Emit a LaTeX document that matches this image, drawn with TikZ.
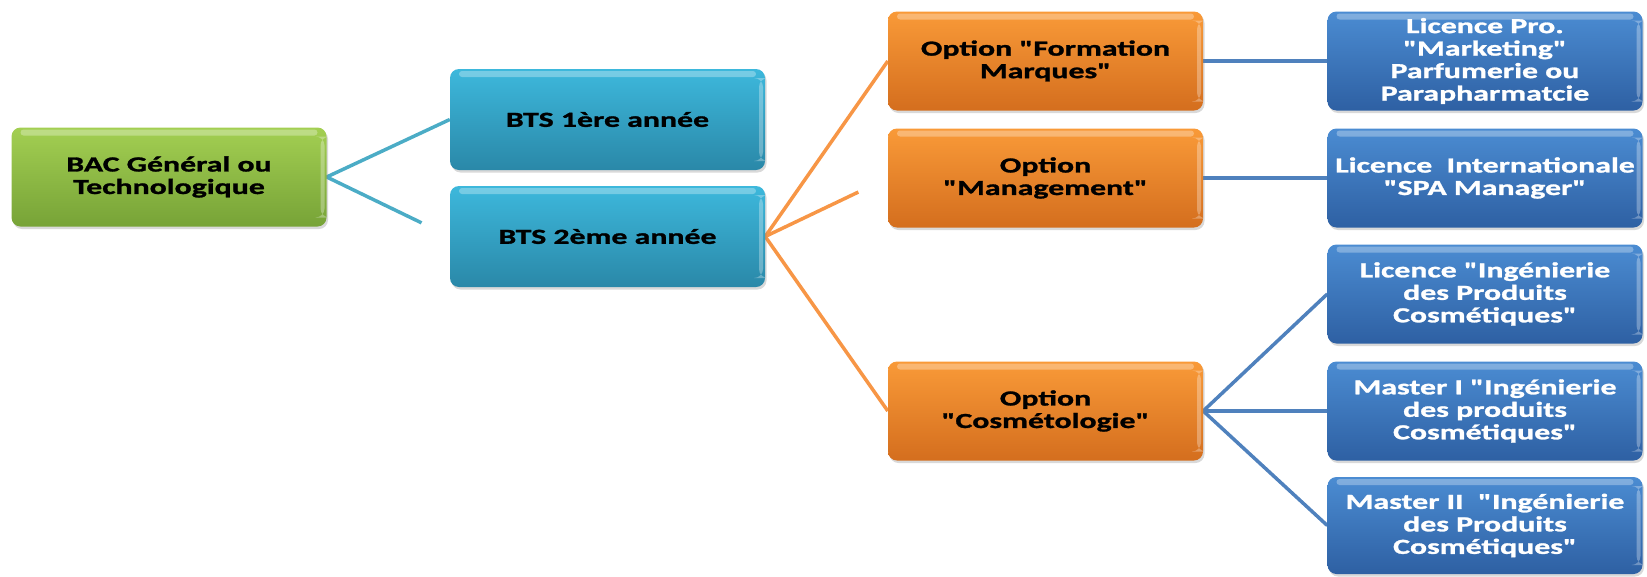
\documentclass[tikz,border=0pt]{standalone}
\usepackage{fontspec}
\setmainfont{Carlito}[Ligatures=TeXOff, FakeStretch=1.48, BoldFeatures={FakeBold=1.3}]
\usetikzlibrary{calc,backgrounds,shadows}
\newcommand{\dqt}{\char34\relax}
\definecolor{gTop}{HTML}{A3CF52}
\definecolor{gBot}{HTML}{77A337}
\definecolor{tTop}{HTML}{3DB8DC}
\definecolor{tBot}{HTML}{2A88A8}
\definecolor{oTop}{HTML}{F99A38}
\definecolor{oBot}{HTML}{D46E1E}
\definecolor{bTop}{HTML}{4B8CD2}
\definecolor{bBot}{HTML}{2E60A3}
\definecolor{tLine}{HTML}{4BACC6}
\definecolor{oLine}{HTML}{F79646}
\definecolor{bLine}{HTML}{4F81BD}
\tikzset{
  box/.style={rounded corners=9pt, minimum width=315pt, minimum height=99pt,
    inner sep=2pt, align=center, font=\bfseries\fontsize{21.5}{22.5}\selectfont,
    drop shadow={opacity=0.3, shadow xshift=1.5pt, shadow yshift=-2.5pt},
    path picture={
      \fill[white,opacity=0.30,rounded corners=3pt]
        ([xshift=9pt,yshift=-2pt]path picture bounding box.north west) rectangle
        ([xshift=-9pt,yshift=-8pt]path picture bounding box.north east);
      \fill[white,opacity=0.30]
        ([xshift=-6pt,yshift=-9pt]path picture bounding box.north east) rectangle
        ([xshift=-2pt,yshift=9pt]path picture bounding box.south east);
    }},
  greenbox/.style={box, top color=gTop, bottom color=gBot, text=black},
  tealbox/.style={box, top color=tTop, bottom color=tBot, text=black},
  orangebox/.style={box, top color=oTop, bottom color=oBot, text=black},
  bluebox/.style={box, top color=bTop, bottom color=bBot, text=white},
  tconn/.style={draw=tLine, line width=3.5pt},
  oconn/.style={draw=oLine, line width=3.5pt},
  bconn/.style={draw=bLine, line width=3.5pt},
}
\begin{document}
\begin{tikzpicture}[x=1pt,y=-1pt]
\useasboundingbox (0,0) rectangle (1647,576);
\node[greenbox] (bac) at (169,177) {BAC Général ou\\Technologique};
\node[tealbox, minimum height=101pt] (bts1) at (607.5,119.5) {BTS 1ère année};
\node[tealbox, minimum height=101pt] (bts2) at (607.5,236.5) {BTS 2ème année};
\node[orangebox] (optfm) at (1045.5,61) {Option \dqt Formation\\Marques\dqt};
\node[orangebox] (optmg) at (1045.5,178) {Option\\\dqt Management\dqt};
\node[orangebox] (optcos) at (1045.5,411) {Option\\\dqt Cosmétologie\dqt};
\node[bluebox] (lpro) at (1485,61) {Licence Pro.\\\dqt Marketing\dqt\\Parfumerie ou\\Parapharmatcie};
\node[bluebox] (lint) at (1485,178) {Licence\ \ Internationale\\\dqt SPA Manager\dqt};
\node[bluebox] (ling) at (1485,294) {Licence \dqt Ingénierie\\des Produits\\Cosmétiques\dqt};
\node[bluebox] (mone) at (1485,411) {Master I \dqt Ingénierie\\des produits\\Cosmétiques\dqt};
\node[bluebox, minimum height=97pt] (mtwo) at (1485,525.5) {Master II\ \ \dqt Ingénierie\\des Produits\\Cosmétiques\dqt};
\coordinate (stubA) at ($(bac.east)!0.77!(bts2.west)$);
\coordinate (stubB) at ($(bts2.east)!0.76!(optmg.west)$);
\begin{pgfonlayer}{background}
\draw[tconn] (bts1.west) -- (bac.east) -- (stubA);
\draw[oconn] (optfm.west) -- (bts2.east) -- (optcos.west);
\draw[oconn] (bts2.east) -- (stubB);
\draw[bconn] (optfm.east) -- (lpro.west);
\draw[bconn] (optmg.east) -- (lint.west);
\draw[bconn] (ling.west) -- (optcos.east) -- (mtwo.west);
\draw[bconn] (optcos.east) -- (mone.west);
\end{pgfonlayer}
\end{tikzpicture}
\end{document}
